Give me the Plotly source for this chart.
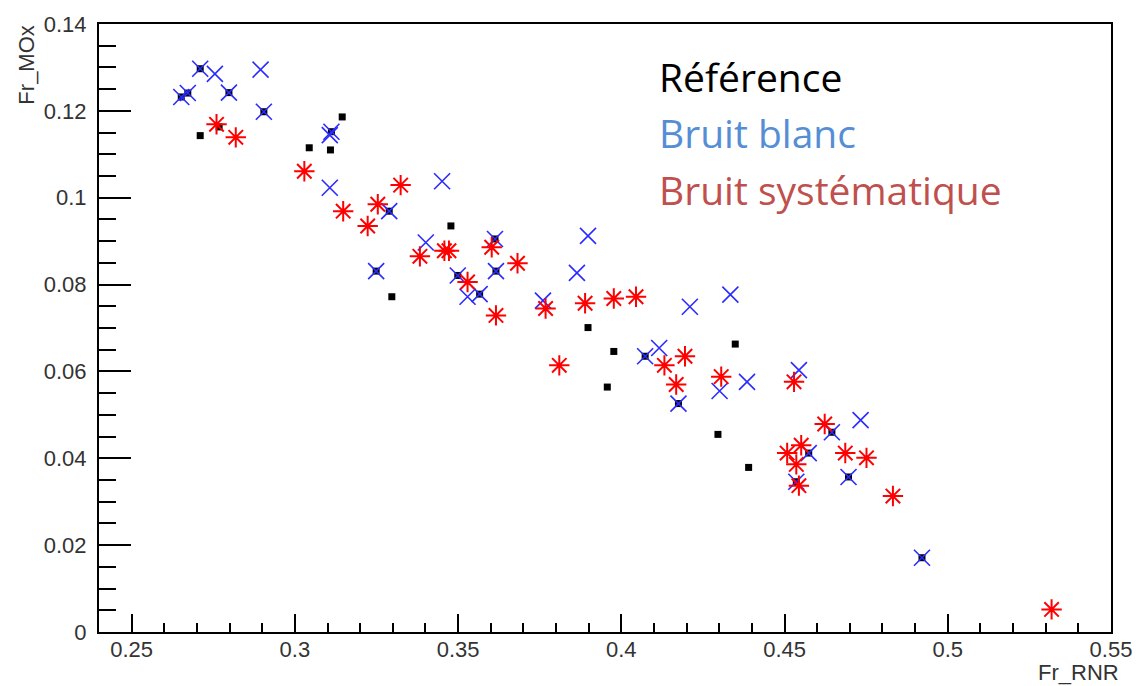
import plotly.graph_objects as go

# ---- data ----
ref_x = [0.2710, 0.2768, 0.3044, 0.3109, 0.3145, 0.3478, 0.3297, 0.3898, 0.3977, 0.3957,
         0.4296, 0.4349, 0.4390,
         0.2652, 0.2672, 0.2710, 0.2798, 0.2905, 0.3112, 0.3289, 0.3249, 0.3613, 0.3616,
         0.3499, 0.3566, 0.4073, 0.4175, 0.4645, 0.4574, 0.4696, 0.4536, 0.4921]
ref_y = [0.1143, 0.1163, 0.1115, 0.1110, 0.1186, 0.0935, 0.0772, 0.0701, 0.0646, 0.0564,
         0.0455, 0.0663, 0.0379,
         0.1232, 0.1241, 0.1297, 0.1242, 0.1198, 0.1152, 0.0969, 0.0831, 0.0905, 0.0831,
         0.0821, 0.0778, 0.0635, 0.0526, 0.0460, 0.0412, 0.0357, 0.0346, 0.0171]

blanc_x = [0.2652, 0.2672, 0.2710, 0.2798, 0.2905, 0.3112, 0.3289, 0.3249, 0.3613, 0.3616,
           0.3499, 0.3566, 0.4073, 0.4175, 0.4645, 0.4574, 0.4696, 0.4536, 0.4921,
           0.2755, 0.2895, 0.3107, 0.3107, 0.3451, 0.3401, 0.3529, 0.3760, 0.3898, 0.3864,
           0.4210, 0.4116, 0.4301, 0.4334, 0.4385, 0.4544, 0.4733]
blanc_y = [0.1232, 0.1241, 0.1297, 0.1242, 0.1198, 0.1152, 0.0969, 0.0831, 0.0905, 0.0831,
           0.0821, 0.0778, 0.0635, 0.0526, 0.0460, 0.0412, 0.0357, 0.0346, 0.0171,
           0.1285, 0.1295, 0.1144, 0.1023, 0.1038, 0.0897, 0.0772, 0.0763, 0.0912, 0.0827,
           0.0749, 0.0654, 0.0555, 0.0777, 0.0576, 0.0603, 0.0488]

syst_x = [0.2760, 0.2819, 0.3029, 0.3148, 0.3223, 0.3254, 0.3324, 0.3383, 0.3458, 0.3472,
          0.3603, 0.3682, 0.3529, 0.3616, 0.3768, 0.3810, 0.3889, 0.3977, 0.4045, 0.4132,
          0.4195, 0.4168, 0.4306, 0.4529, 0.4623, 0.4508, 0.4551, 0.4536, 0.4544, 0.4686,
          0.4751, 0.4832, 0.5318]
syst_y = [0.1169, 0.1139, 0.1061, 0.0969, 0.0935, 0.0985, 0.1029, 0.0865, 0.0878, 0.0878,
          0.0886, 0.0849, 0.0806, 0.0729, 0.0745, 0.0614, 0.0757, 0.0768, 0.0772, 0.0614,
          0.0635, 0.0570, 0.0588, 0.0576, 0.0479, 0.0412, 0.0430, 0.0386, 0.0337, 0.0412,
          0.0401, 0.0313, 0.0052]

x_ticks = [0.25, 0.3, 0.35, 0.4, 0.45, 0.5, 0.55]
x_ticklabels = ["0.25", "0.3", "0.35", "0.4", "0.45", "0.5", "0.55"]
y_ticks = [0, 0.02, 0.04, 0.06, 0.08, 0.1, 0.12, 0.14]
y_ticklabels = ["0", "0.02", "0.04", "0.06", "0.08", "0.1", "0.12", "0.14"]

legend_labels = ["Référence", "Bruit blanc", "Bruit systématique"]
legend_colors = ["#000000", "#558ED5", "#C0504D"]

x_title = "Fr_RNR"
y_title = "Fr_MOx"

# ---- figure ----
fig = go.Figure()
fig.add_trace(go.Scatter(x=ref_x, y=ref_y, mode="markers", name=legend_labels[0],
                         marker=dict(symbol="square", size=7, color="black",
                                     line=dict(width=0))))
fig.add_trace(go.Scatter(x=blanc_x, y=blanc_y, mode="markers", name=legend_labels[1],
                         marker=dict(symbol="x-thin-open", size=16, color="#2b2bff",
                                     line=dict(width=1.6, color="#2b2bff"))))
fig.add_trace(go.Scatter(x=syst_x, y=syst_y, mode="markers", name=legend_labels[2],
                         marker=dict(symbol="asterisk-open", size=17, color="#ff0000",
                                     line=dict(width=2, color="#ff0000"))))

axis_font = dict(family="Liberation Sans, Arial, sans-serif", size=22, color="#333333")

fig.update_xaxes(range=[0.24, 0.55], showgrid=False, zeroline=False,
                 showline=True, linecolor="black", linewidth=2, mirror=True,
                 ticks="inside", ticklen=18, tickwidth=2, tickcolor="black",
                 tickvals=x_ticks, ticktext=x_ticklabels, tickfont=axis_font,
                 ticklabelstandoff=-3,
                 minor=dict(dtick=0.01, tick0=0.25, ticks="inside", ticklen=9,
                            tickwidth=2, tickcolor="black", showgrid=False))
fig.update_yaxes(range=[0, 0.14], showgrid=False, zeroline=False,
                 showline=True, linecolor="black", linewidth=2, mirror=True,
                 ticks="inside", ticklen=32, tickwidth=2, tickcolor="black",
                 tickvals=y_ticks, ticktext=y_ticklabels, tickfont=axis_font,
                 ticklabelstandoff=6,
                 minor=dict(dtick=0.005, tick0=0, ticks="inside", ticklen=17,
                            tickwidth=2, tickcolor="black", showgrid=False))

# axis titles (ROOT style: at the ends of the axes)
fig.add_annotation(text=y_title, xref="paper", yref="paper", x=-0.072, y=1.0,
                   xanchor="center", yanchor="top", textangle=-90, showarrow=False,
                   font=dict(family="Liberation Sans, Arial, sans-serif", size=22,
                             color="#333333"))
fig.add_annotation(text=x_title, xref="paper", yref="paper", x=1.01, y=-0.067,
                   xanchor="right", yanchor="middle", showarrow=False,
                   font=dict(family="Liberation Sans, Arial, sans-serif", size=22,
                             color="#333333"))

# text legend
leg_y = [0.914, 0.821, 0.728]
for lab, col, yy in zip(legend_labels, legend_colors, leg_y):
    fig.add_annotation(text=lab, xref="paper", yref="paper", x=0.551, y=yy,
                       xanchor="left", yanchor="middle", showarrow=False,
                       font=dict(family="Open Sans, Lato, sans-serif", size=39,
                                 color=col))

fig.update_layout(width=1144, height=686, autosize=False,
                  margin=dict(l=99, r=22, t=18, b=54),
                  paper_bgcolor="white", plot_bgcolor="white",
                  showlegend=False)

fig.write_html("out.html")
